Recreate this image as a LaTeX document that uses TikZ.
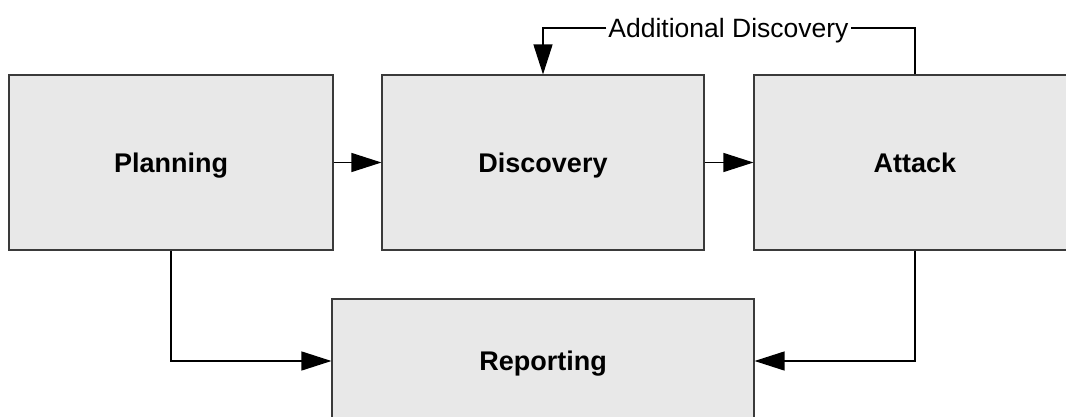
\documentclass[tikz,border=0pt]{standalone}
\usepackage{fontspec}
\setmainfont{Liberation Sans}
\usetikzlibrary{arrows.meta,positioning}
\definecolor{boxfill}{HTML}{E8E8E8}
\definecolor{boxline}{HTML}{3A3A3A}
\tikzset{
  stage/.style={draw=boxline, fill=boxfill, line width=1.1pt, minimum height=175pt,
    inner sep=0pt, text height=19.5pt, text depth=0.5pt,
    font=\fontsize{27}{32}\selectfont\bfseries},
  conn/.style={draw=black, line width=1.2pt, -{Triangle[length=30pt,width=19pt]}},
  lbl/.style={inner sep=2pt, text height=19pt, text depth=0pt,
    font=\fontsize{26.5}{32}\selectfont}
}
\begin{document}
\begin{tikzpicture}[x=1pt,y=-1pt]
\useasboundingbox (0,0) rectangle (1066,417);
\node[stage, minimum width=324pt] (plan) at (171,162.5) {Planning};
\node[stage, minimum width=322pt] (disc) at (543,162.5) {Discovery};
\node[stage, minimum width=322pt] (att) at (915,162.5) {Attack};
\node[stage, minimum width=422pt, minimum height=124pt] (rep) at (543,361) {Reporting};
\node[lbl] (add) at (728.5,28) {Additional Discovery};
\draw[conn] (plan.east) -- (disc.west);
\draw[conn] (disc.east) -- (att.west);
\draw[conn] (plan.south) |- (rep.west);
\draw[conn] (att.south) |- (rep.east);
\draw[line width=1.2pt] (att.north) |- (add.east);
\draw[conn] (add.west) -| (disc.north);
\end{tikzpicture}
\end{document}
